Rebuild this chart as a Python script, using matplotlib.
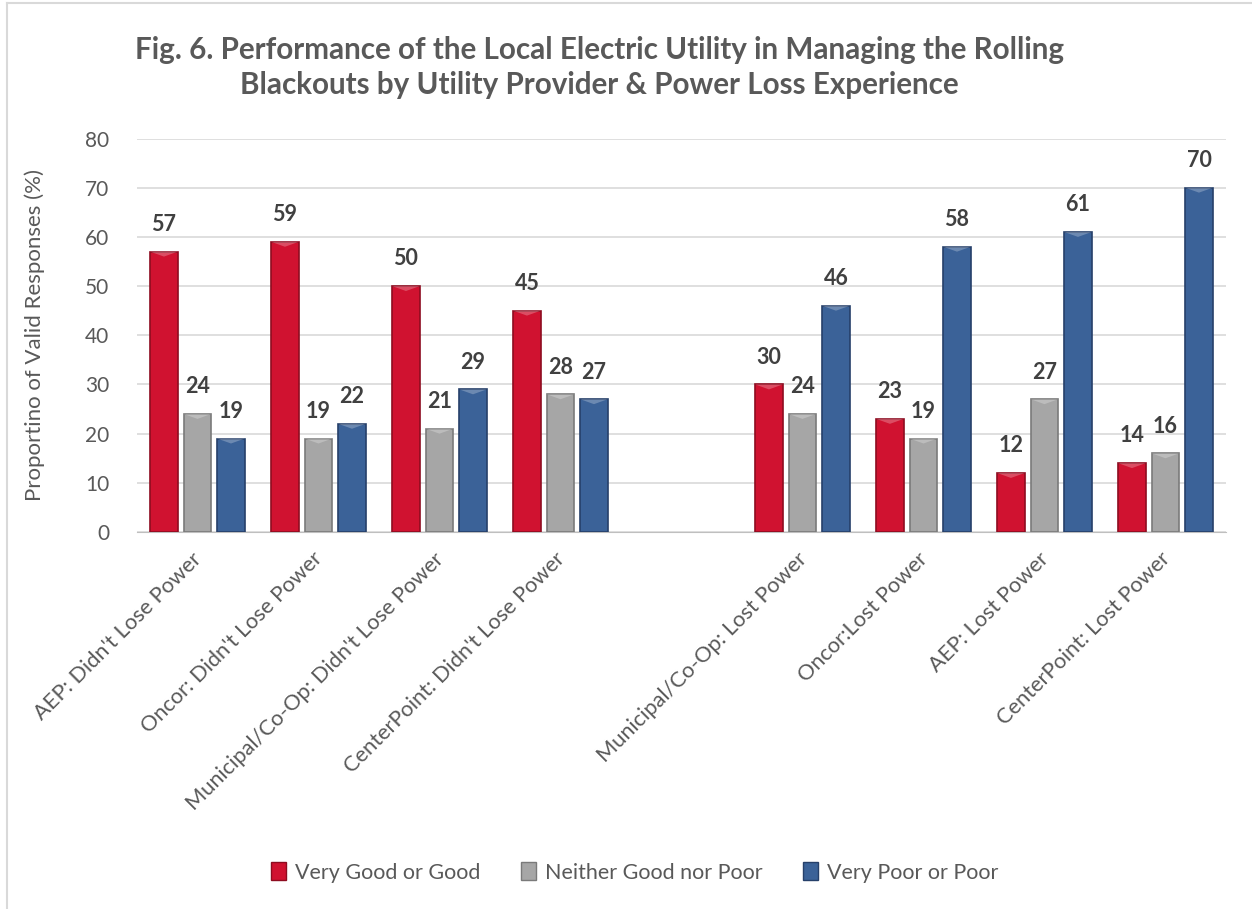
import matplotlib.pyplot as plt
import matplotlib.patches as mpatches
import matplotlib.transforms as mtrans
from matplotlib.lines import Line2D
import numpy as np

plt.rcParams['font.family'] = ['Lato', 'DejaVu Sans']

categories = ["AEP: Didn't Lose Power", "Oncor: Didn't Lose Power",
              "Municipal/Co-Op: Didn't Lose Power", "CenterPoint: Didn't Lose Power",
              "", "Municipal/Co-Op: Lost Power", "Oncor:Lost Power",
              "AEP: Lost Power", "CenterPoint: Lost Power"]
good = [57, 59, 50, 45, None, 30, 23, 12, 14]
neither = [24, 19, 21, 28, None, 24, 19, 27, 16]
poor = [19, 22, 29, 27, None, 46, 58, 61, 70]
series_names = ['Very Good or Good', 'Neither Good nor Poor', 'Very Poor or Poor']
colors = ['#D01230', '#A6A6A6', '#3B6298']
edges = ['#8E0C20', '#7A7A7A', '#26406A']

fig = plt.figure(figsize=(12.52, 9.09), dpi=100)
ax = fig.add_axes([0.1094, 0.4147, 0.8698, 0.4329])

x = np.arange(len(categories))
w = 0.227
offs = [-0.277, 0, 0.277]
for vals, off, c, ec in zip([good, neither, poor], offs, colors, edges):
    xs = [xi + off for xi, v in zip(x, vals) if v is not None]
    vs = [v for v in vals if v is not None]
    bars = ax.bar(xs, vs, width=w, color=c, edgecolor=ec, linewidth=1.2, zorder=3)
    for b, v in zip(bars, vs):
        # light bevel on top
        bx, bw, bh = b.get_x(), b.get_width(), b.get_height()
        tri = mpatches.Polygon([[bx, bh], [bx + bw, bh], [bx + bw / 2, bh - 1.0]],
                               closed=True, color='white', alpha=0.25, zorder=4, lw=0)
        ax.add_patch(tri)
        ax.text(bx + bw / 2, bh + 3.4, str(v), ha='center', va='bottom',
                fontsize=15.5, fontweight='bold', color='#404040')

ax.set_ylim(0, 80)
ax.set_xlim(-0.5, len(categories) - 0.5)
ax.set_yticks(range(0, 81, 10))
ax.yaxis.grid(True, color='#D9D9D9', linewidth=1.2, zorder=0)
ax.set_axisbelow(True)
for s in ['top', 'right', 'left']:
    ax.spines[s].set_visible(False)
ax.spines['bottom'].set_color('#BFBFBF')
ax.tick_params(axis='y', length=0, labelsize=15, labelcolor='#595959', pad=20)
ax.tick_params(axis='x', length=0, labelsize=15.7, labelcolor='#595959', pad=12)
ax.set_xticks(x)
ax.set_xticklabels(categories, rotation=45, ha='right', rotation_mode='anchor')
shift = mtrans.ScaledTranslation(-6 / 100, 0, fig.dpi_scale_trans)
for lab in ax.get_xticklabels():
    lab.set_transform(lab.get_transform() + shift)
ax.set_ylabel('Proportino of Valid Responses (%)', fontsize=16, color='#595959')
ax.yaxis.set_label_coords(-0.0845, 0.5)

fig.text(0.479, 0.945, 'Fig. 6. Performance of the Local Electric Utility in Managing the Rolling',
         ha='center', va='center', fontsize=21.3, fontweight='bold', color='#595959')
fig.text(0.479, 0.906, 'Blackouts by Utility Provider & Power Loss Experience',
         ha='center', va='center', fontsize=21.3, fontweight='bold', color='#595959')

handles = [mpatches.Patch(facecolor=c, edgecolor=ec) for c, ec in zip(colors, edges)]
fig.legend(handles, series_names, loc='center', bbox_to_anchor=(0.507, 0.04), ncol=3,
           frameon=False, fontsize=15.5, labelcolor='#595959', handlelength=0.7,
           handleheight=0.9, handletextpad=0.4, columnspacing=1.9)

# chart area border (left and top edges visible)
fig.lines.append(Line2D([0.0056, 0.0056], [0, 0.9967], transform=fig.transFigure,
                        color='#D9D9D9', linewidth=1.5))
fig.lines.append(Line2D([0.0056, 1.0], [0.9967, 0.9967], transform=fig.transFigure,
                        color='#D9D9D9', linewidth=1.5))

fig.savefig('out.png', dpi=100)
